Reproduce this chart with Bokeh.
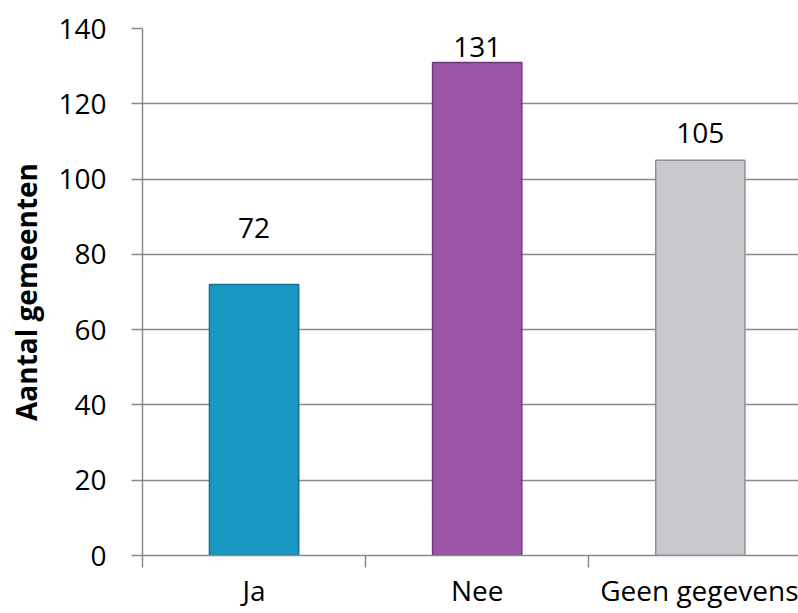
from bokeh.plotting import figure
from bokeh.models import ColumnDataSource, Range1d, FixedTicker
from bokeh.core.properties import value
from bokeh.embed import file_html
from bokeh.resources import INLINE

categories = ["Ja", "Nee", "Geen gegevens"]
counts = [72, 131, 105]
y_ticks = [0, 20, 40, 60, 80, 100, 120, 140]

fill_colors = ["#1899c3", "#9b55a7", "#c8c9cc"]
edge_colors = ["#146f8d", "#6d3a79", "#8f9093"]
label_offsets = [-56, -15, -27]

xpos = [i + 0.5 for i in range(len(categories))]
src = ColumnDataSource(dict(x=xpos, top=counts, fill=fill_colors, edge=edge_colors,
                            lbl=[str(c) for c in counts], yoff=label_offsets))

FONT = "Open Sans"
GRAY = "#8a8a8a"

p = figure(width=798, height=613, output_backend="svg", toolbar_location=None,
           x_range=Range1d(0, 2.94), y_range=Range1d(0, 140),
           min_border_left=142, min_border_top=28, min_border_bottom=58, min_border_right=0)
p.outline_line_color = None
p.background_fill_color = "white"
p.border_fill_color = "white"

p.vbar(x="x", top="top", width=0.4, source=src, fill_color="fill",
       line_color="edge", line_width=1.5)
p.text(x="x", y="top", text="lbl", source=src, y_offset="yoff",
       text_align="center", text_baseline="middle",
       text_font=value(FONT), text_font_size="28px", text_color="#000000")

# y axis
p.yaxis.ticker = FixedTicker(ticks=y_ticks)
p.yaxis.axis_label = "Aantal gemeenten"
p.yaxis.axis_label_text_font = FONT
p.yaxis.axis_label_text_font_size = "28px"
p.yaxis.axis_label_text_font_style = "bold"
p.yaxis.axis_label_text_color = "#000000"
p.yaxis.axis_label_standoff = 10
p.yaxis.major_label_text_font = FONT
p.yaxis.major_label_text_font_size = "28px"
p.yaxis.major_label_text_color = "#000000"
p.yaxis.major_label_standoff = 25
p.yaxis.major_tick_out = 11
p.yaxis.major_tick_in = 0
p.yaxis.minor_tick_out = 0
p.yaxis.minor_tick_in = 0
p.yaxis.axis_line_color = GRAY
p.yaxis.axis_line_width = 1.5
p.yaxis.major_tick_line_color = GRAY
p.yaxis.major_tick_line_width = 1.5

# x axis
p.xaxis.ticker = FixedTicker(ticks=xpos, minor_ticks=[0, 1, 2, 3])
p.xaxis.major_label_overrides = {x: c for x, c in zip(xpos, categories)}
p.xaxis.major_label_text_font = FONT
p.xaxis.major_label_text_font_size = "28px"
p.xaxis.major_label_text_color = "#000000"
p.xaxis.major_label_standoff = 3
p.xaxis.major_tick_out = 0
p.xaxis.major_tick_in = 0
p.xaxis.minor_tick_out = 12
p.xaxis.minor_tick_in = 0
p.xaxis.minor_tick_line_color = GRAY
p.xaxis.minor_tick_line_width = 1.5
p.xaxis.axis_line_color = GRAY
p.xaxis.axis_line_width = 1.5

# grid
p.xgrid.grid_line_color = None
p.ygrid.ticker = FixedTicker(ticks=y_ticks)
p.ygrid.grid_line_color = GRAY
p.ygrid.grid_line_width = 1.5

open("out.html", "w").write(file_html(p, INLINE))
